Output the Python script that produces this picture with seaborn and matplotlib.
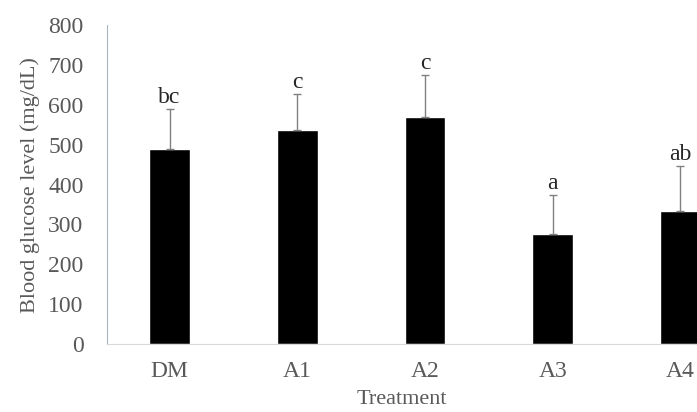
import pandas as pd
import matplotlib
matplotlib.use("Agg")
import matplotlib.pyplot as plt
import seaborn as sns

# Data
treatments = ['DM', 'A1', 'A2', 'A3', 'A4']
glucose_mean = [488, 536, 570, 276, 333]
glucose_sd = [101, 91, 105, 97, 113]
letters = ['bc', 'c', 'c', 'a', 'ab']

df = pd.DataFrame({'Treatment': treatments, 'Glucose': glucose_mean})

sns.set_style("white")
plt.rcParams['font.family'] = ['Liberation Serif', 'DejaVu Serif']

fig = plt.figure(figsize=(6.97, 4.12), dpi=100)
ax = fig.add_axes([0.1535, 0.165, 0.8465, 0.774])

sns.barplot(x='Treatment', y='Glucose', data=df, color='black', width=0.32,
            saturation=1, ax=ax)

# upward-only error bars
ax.errorbar(range(len(treatments)), glucose_mean,
            yerr=[[0] * len(glucose_sd), glucose_sd],
            fmt='none', ecolor='#808080', elinewidth=1, capsize=3, capthick=1)

for i, (m, s, lab) in enumerate(zip(glucose_mean, glucose_sd, letters)):
    ax.annotate(lab, (i, m + s), xytext=(0, 1), textcoords='offset points',
                ha='center', va='bottom', fontsize=17, color='#262626')

ax.set_ylim(0, 800)
ax.set_yticks(range(0, 801, 100))
ax.set_xlim(-0.49, 4.13)

for side in ['top', 'right']:
    ax.spines[side].set_visible(False)
ax.spines['left'].set_color('#A9B4C2')
ax.spines['bottom'].set_color('#D9D9D9')
ax.tick_params(axis='both', length=0, labelsize=17, colors='#595959')
ax.tick_params(axis='y', pad=17)
ax.tick_params(axis='x', pad=12)

ax.set_xlabel('Treatment', fontsize=16, color='#595959', labelpad=6)
ax.set_ylabel('Blood glucose level (mg/dL)', fontsize=16, color='#595959',
              labelpad=6)

fig.savefig('out.png', dpi=100)
